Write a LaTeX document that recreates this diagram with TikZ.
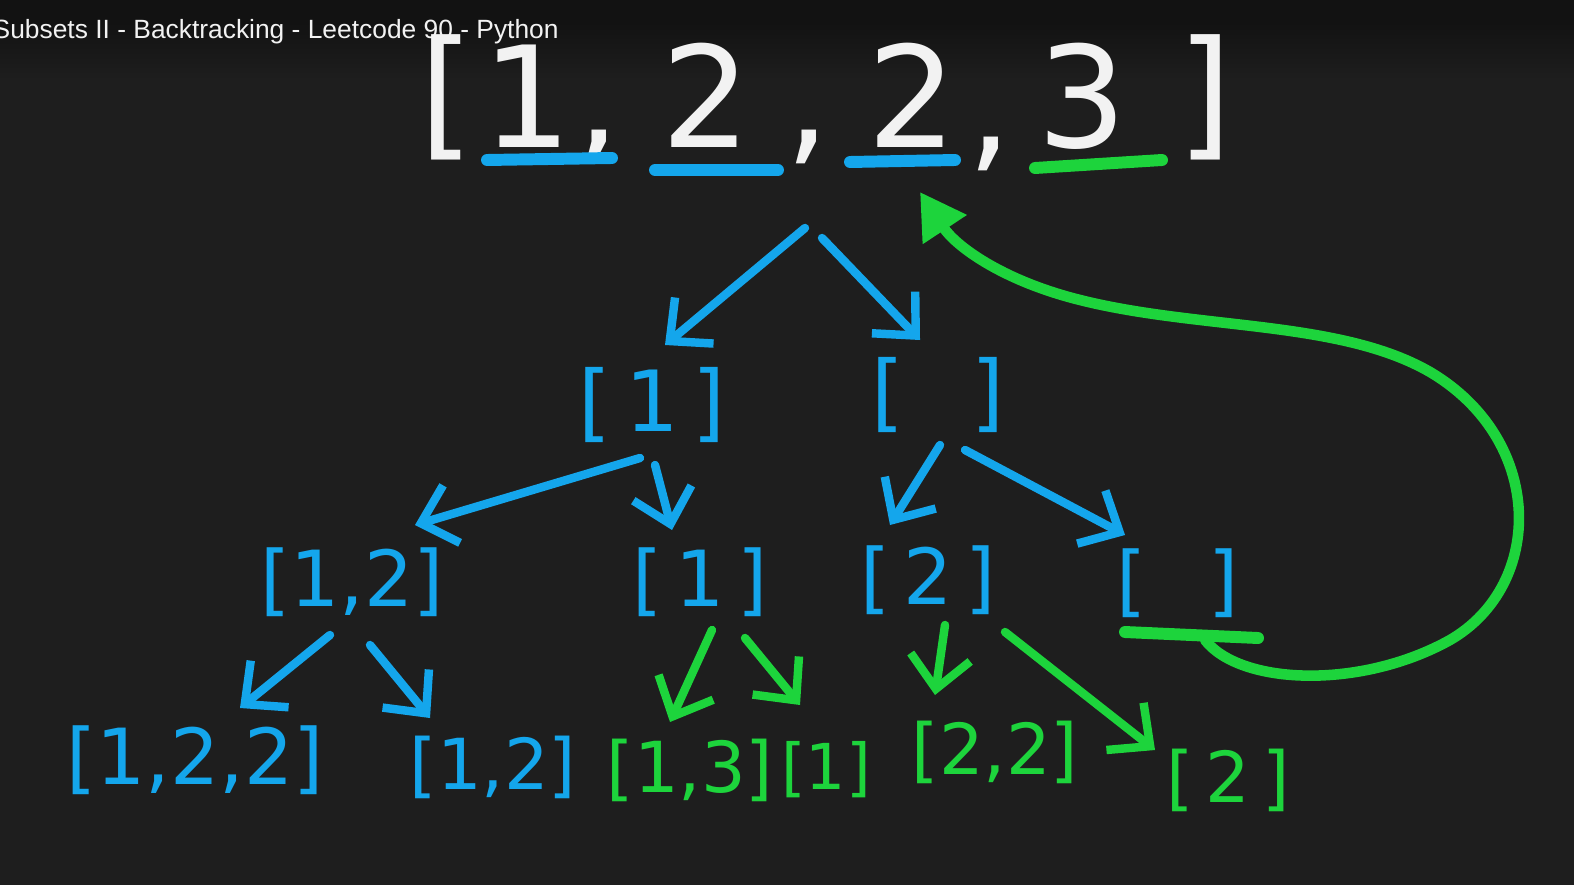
\documentclass[tikz,border=0pt]{standalone}
\usepackage{fontspec}
\setmainfont{DejaVu Sans}
\newfontfamily\titlefont{Liberation Sans}
\usetikzlibrary{arrows.meta}

\definecolor{bgdark}{HTML}{1E1E1E}
\definecolor{bartop}{HTML}{121212}
\definecolor{penblue}{HTML}{14A6EC}
\definecolor{pengreen}{HTML}{1DD43C}
\definecolor{penwhite}{HTML}{F2F2F2}

\begin{document}
\begin{tikzpicture}[x=0.01cm,y=-0.01cm,
    every node/.style={inner sep=0pt},
    toplbl/.style={text=penwhite,font=\fontsize{40}{40}\selectfont,anchor=base},
    blbl/.style={text=penblue},
    glbl/.style={text=pengreen},
    lvlone/.style={font=\fontsize{24}{24}\selectfont},
    lvltwo/.style={font=\fontsize{22}{22}\selectfont},
    leaf/.style={font=\fontsize{20}{20}\selectfont},
    pen/.style={line width=2.4pt,line cap=round,line join=round},
    barrow/.style={pen,penblue,-{Straight Barb[length=3.2mm,width=6mm]}},
    garrow/.style={pen,pengreen,-{Straight Barb[length=3.2mm,width=6mm]}},
    uline/.style={line width=3.4pt,line cap=round}
]
\useasboundingbox (0,0) rectangle (1574,885);
\fill[bgdark] (0,0) rectangle (1574,885);
\fill[bartop] (0,0) rectangle (1574,22);
\shade[top color=bartop,bottom color=bgdark] (0,22) rectangle (1574,80);

% video title
\begin{scope}
\clip (0,0) rectangle (1574,885);
\node[text=penwhite,anchor=west,font=\titlefont\fontsize{7.5}{8}\selectfont]
    (title) at (-8,32) {Subsets II - Backtracking - Leetcode 90 - Python};
\end{scope}

% input array
\node[toplbl] (lbr) at (447,142) {[};
\node[toplbl] (d1)  at (527,148) {1};
\node[toplbl] (c1)  at (598,148) {,};
\node[toplbl] (d2)  at (706,148) {2};
\node[toplbl] (c2)  at (808,148) {,};
\node[toplbl] (d3)  at (912,148) {2};
\node[toplbl] (c3)  at (990,155) {,};
\node[toplbl] (d4)  at (1082,148) {3};
\node[toplbl] (rbr) at (1205,142) {]};
\coordinate (fork) at (812,230);

\draw[uline,penblue]  ([shift={(-40,12)}]d1.base) -- ([shift={(85,10)}]d1.base);
\draw[uline,penblue]  ([shift={(-51,22)}]d2.base) -- ([shift={(72,22)}]d2.base);
\draw[uline,penblue]  ([shift={(-62,14)}]d3.base) -- ([shift={(43,12)}]d3.base);
\draw[uline,pengreen] ([shift={(-47,20)}]d4.base) -- ([shift={(80,12)}]d4.base);

% decision tree
\node[blbl,lvlone] (s1)  at (652,405) {[\,1\,]};
\node[blbl,lvlone] (s0)  at (938,395) {[\hspace{0.8em}]};

\node[blbl,lvltwo] (s12) at (352,582) {[1,2]};
\node[blbl,lvltwo] (s1b) at (700,582) {[\,1\,]};
\node[blbl,lvltwo] (s2)  at (928,580) {[\,2\,]};
\node[blbl,lvltwo] (s0b) at (1178,583) {[\hspace{0.8em}]};

\node[blbl,lvltwo] (s122) at (195,760) {[1,2,2]};
\node[blbl,leaf] (s12b) at (493,767) {[1,2]};
\node[glbl,leaf] (s13)  at (690,770) {[1,3]};
\node[glbl,font=\fontsize{18}{18}\selectfont] (s1c) at (826,770) {[1]};
\node[glbl,leaf] (s22)  at (995,752) {[2,2]};
\node[glbl,leaf] (s2b)  at (1228,780) {[\,2\,]};

\draw[barrow] ([shift={(-7,-2)}]fork) -- ([shift={(13,-60)}]s1.center);
\draw[barrow] ([shift={(10,8)}]fork) -- ([shift={(-18,-55)}]s0.center);
\draw[barrow] ([shift={(-12,53)}]s1.center) -- ([shift={(63,-57)}]s12.center);
\draw[barrow] ([shift={(3,60)}]s1.center) -- ([shift={(-28,-52)}]s1b.center);
\draw[barrow] ([shift={(2,50)}]s0.center) -- ([shift={(-38,-55)}]s2.center);
\draw[barrow] ([shift={(27,55)}]s0.center) -- ([shift={(-53,-48)}]s0b.center);
\draw[barrow] ([shift={(-22,53)}]s12.center) -- ([shift={(45,-52)}]s122.center);
\draw[barrow] ([shift={(18,63)}]s12.center) -- ([shift={(-63,-49)}]s12b.center);

\draw[garrow] ([shift={(12,48)}]s1b.center) -- ([shift={(-20,-48)}]s13.center);
\draw[garrow] ([shift={(45,56)}]s1b.center) -- ([shift={(-26,-65)}]s1c.center);
\draw[garrow] ([shift={(17,45)}]s2.center) -- ([shift={(-60,-57)}]s22.center);
\draw[garrow] ([shift={(77,52)}]s2.center) -- ([shift={(-73,-30)}]s2b.center);

% skip the duplicate: back to the next distinct value
\draw[uline,pengreen] ([shift={(-53,49)}]s0b.center) -- ([shift={(80,55)}]s0b.center);
\draw[pen,pengreen,line width=3pt,-{Triangle[length=4.5mm,width=5mm]}]
    ([shift={(27,57)}]s0b.center)
    .. controls (1240,685) and (1360,690) .. (1450,640)
    .. controls (1545,585) and (1545,440) .. (1430,372)
    .. controls (1340,320) and (1200,330) .. (1080,300)
    .. controls (1000,280) and (955,245) .. ([shift={(8,44)}]d3.base);
\end{tikzpicture}
\end{document}
